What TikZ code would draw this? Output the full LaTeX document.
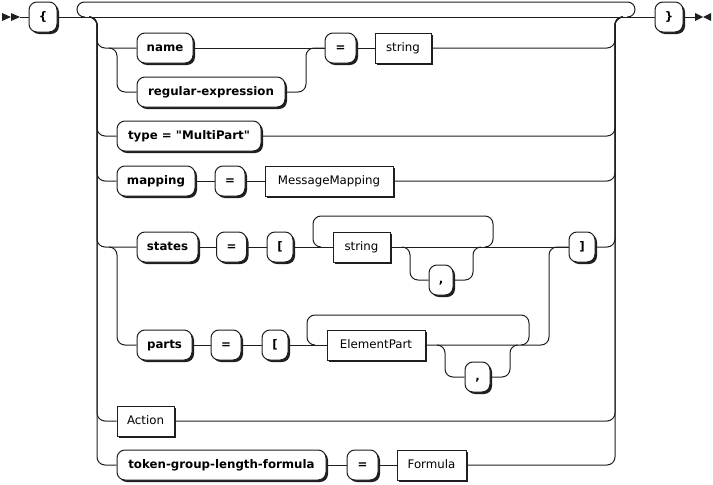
\documentclass[tikz,border=0pt]{standalone}
\usepackage{fontspec}
\setmainfont{DejaVu Sans}[Ligatures=TeXOff]
\usetikzlibrary{shadows}
\definecolor{ink}{HTML}{1E1E1E}
\begin{document}
\begin{tikzpicture}[x=1pt,y=-1pt,
  rail/.style={draw=ink, line width=1pt, rounded corners=8pt},
  boxbase/.style={draw=ink, line width=1pt, fill=white, minimum height=30pt,
    inner sep=0pt, text height=8.6pt, text depth=2.4pt,
    drop shadow={shadow xshift=2pt, shadow yshift=-2pt, fill=ink, opacity=1},
    font=\fontsize{11.8}{14}\selectfont},
  term/.style={boxbase, rounded corners=8pt, font=\fontsize{11.8}{14}\selectfont\bfseries},
  nonterm/.style={boxbase},
  tip/.style={fill=ink, draw=none}]
\useasboundingbox (0,0) rectangle (713,485);

% terminals and nonterminals
\node[term, minimum width=28pt] (lbrace) at (43,17) {\{};
\node[term, minimum width=28pt] (rbrace) at (669,17) {\}};
\node[term, minimum width=56pt] (name) at (165,48) {name};
\node[term, minimum width=148pt] (regex) at (211,92) {regular-expression};
\node[term, minimum width=31pt] (eqA) at (340.5,48) {=};
\node[nonterm, minimum width=56pt] (strA) at (403,48) {string};
\node[term, minimum width=144pt] (type) at (189,136) {type = "MultiPart"};
\node[term, minimum width=78pt] (mapping) at (156,181) {mapping};
\node[term, minimum width=30pt] (eqB) at (230,181) {=};
\node[nonterm, minimum width=128pt] (mm) at (329,181) {MessageMapping};
\node[term, minimum width=61pt] (states) at (167.5,247) {states};
\node[term, minimum width=30pt] (eqC) at (231.5,247) {=};
\node[term, minimum width=26pt] (lbrA) at (280,247) {[};
\node[nonterm, minimum width=57pt] (strB) at (361.5,247) {string};
\node[term, minimum width=24pt] (comA) at (441,280) {,};
\node[term, minimum width=26pt] (rbr) at (582,247) {]};
\node[term, minimum width=55pt] (parts) at (164.5,345) {parts};
\node[term, minimum width=30pt] (eqD) at (226,345) {=};
\node[term, minimum width=26pt] (lbrB) at (275,345) {[};
\node[nonterm, minimum width=98pt] (ep) at (376,345) {ElementPart};
\node[term, minimum width=25pt] (comB) at (477.5,377) {,};
\node[nonterm, minimum width=57pt] (action) at (145.5,421) {Action};
\node[term, minimum width=209pt] (token) at (221.5,465) {token-group-length-formula};
\node[term, minimum width=31pt] (eqE) at (362.5,465) {=};
\node[nonterm, minimum width=69pt] (formula) at (431.5,465) {Formula};

% entry and exit markers
\coordinate (start) at (20,17);
\coordinate (finish) at (695,17);
\fill[tip] (2,13) -- (11,17) -- (2,21) -- cycle;
\fill[tip] (11,13) -- (20,17) -- (11,21) -- cycle;
\fill[tip] (695,13) -- (703,17) -- (695,21) -- cycle;
\fill[tip] (711,13) -- (703,17) -- (711,21) -- cycle;
\draw[rail] (start) -- (lbrace.west);
\draw[rail] (lbrace.east) -- (rbrace.west);
\draw[rail] (rbrace.east) -- (finish);

% repetition loop over the whole choice
\draw[rail, rounded corners=7.5pt] (85,17) -- (77,17) -- (77,2) -- (635,2) -- (635,17) -- (627,17);

% choice split and join
\coordinate (cl) at (89,17);
\coordinate (cr) at (623,17);
\draw[rail] (cl) -| (97,48) -- (name.west);
\draw[rail] (cl) -| (97,136) -- (type.west);
\draw[rail] (cl) -| (97,181) -- (mapping.west);
\draw[rail] (cl) -| (97,247) -- (states.west);
\draw[rail] (cl) -| (97,421) -- (action.west);
\draw[rail] (cl) -| (97,465) -- (token.west);

% name / regular-expression = string
\draw[rail] (109,48) -| (117,92) -- (regex.west);
\draw[rail] (name.east) -- (eqA.west);
\draw[rail] (regex.east) -| (306,48) -- (eqA.west);
\draw[rail] (eqA.east) -- (strA.west);
\draw[rail] (strA.east) -| (615,17) -- (cr);

% type
\draw[rail] (type.east) -| (615,17) -- (cr);

% mapping = MessageMapping
\draw[rail] (mapping.east) -- (eqB.west);
\draw[rail] (eqB.east) -- (mm.west);
\draw[rail] (mm.east) -| (615,17) -- (cr);

% states = [ string , ... ]
\draw[rail] (109,247) -| (117,345) -- (parts.west);
\draw[rail] (states.east) -- (eqC.west);
\draw[rail] (eqC.east) -- (lbrA.west);
\draw[rail] (lbrA.east) -- (strB.west);
\draw[rail] (strB.east) -- (rbr.west);
\draw[rail] (321,247) -- (313,247) -- (313,216) -- (493,216) -- (493,247) -- (485,247);
\draw[rail] (402,247) -| (410,280) -- (comA.west);
\draw[rail] (comA.east) -| (473,247) -- (481,247);
\draw[rail] (rbr.east) -| (615,17) -- (cr);

% parts = [ ElementPart , ... ]
\draw[rail] (parts.east) -- (eqD.west);
\draw[rail] (eqD.east) -- (lbrB.west);
\draw[rail] (lbrB.east) -- (ep.west);
\draw[rail] (315,345) -- (307,345) -- (307,315) -- (529,315) -- (529,345) -- (521,345);
\draw[rail] (437,345) -| (445,377) -- (comB.west);
\draw[rail] (comB.east) -| (510,345) -- (518,345);
\draw[rail] (ep.east) -| (549,247) -- (rbr.west);

% Action
\draw[rail] (action.east) -| (615,17) -- (cr);

% token-group-length-formula = Formula
\draw[rail] (token.east) -- (eqE.west);
\draw[rail] (eqE.east) -- (formula.west);
\draw[rail] (formula.east) -| (615,17) -- (cr);
\end{tikzpicture}
\end{document}
